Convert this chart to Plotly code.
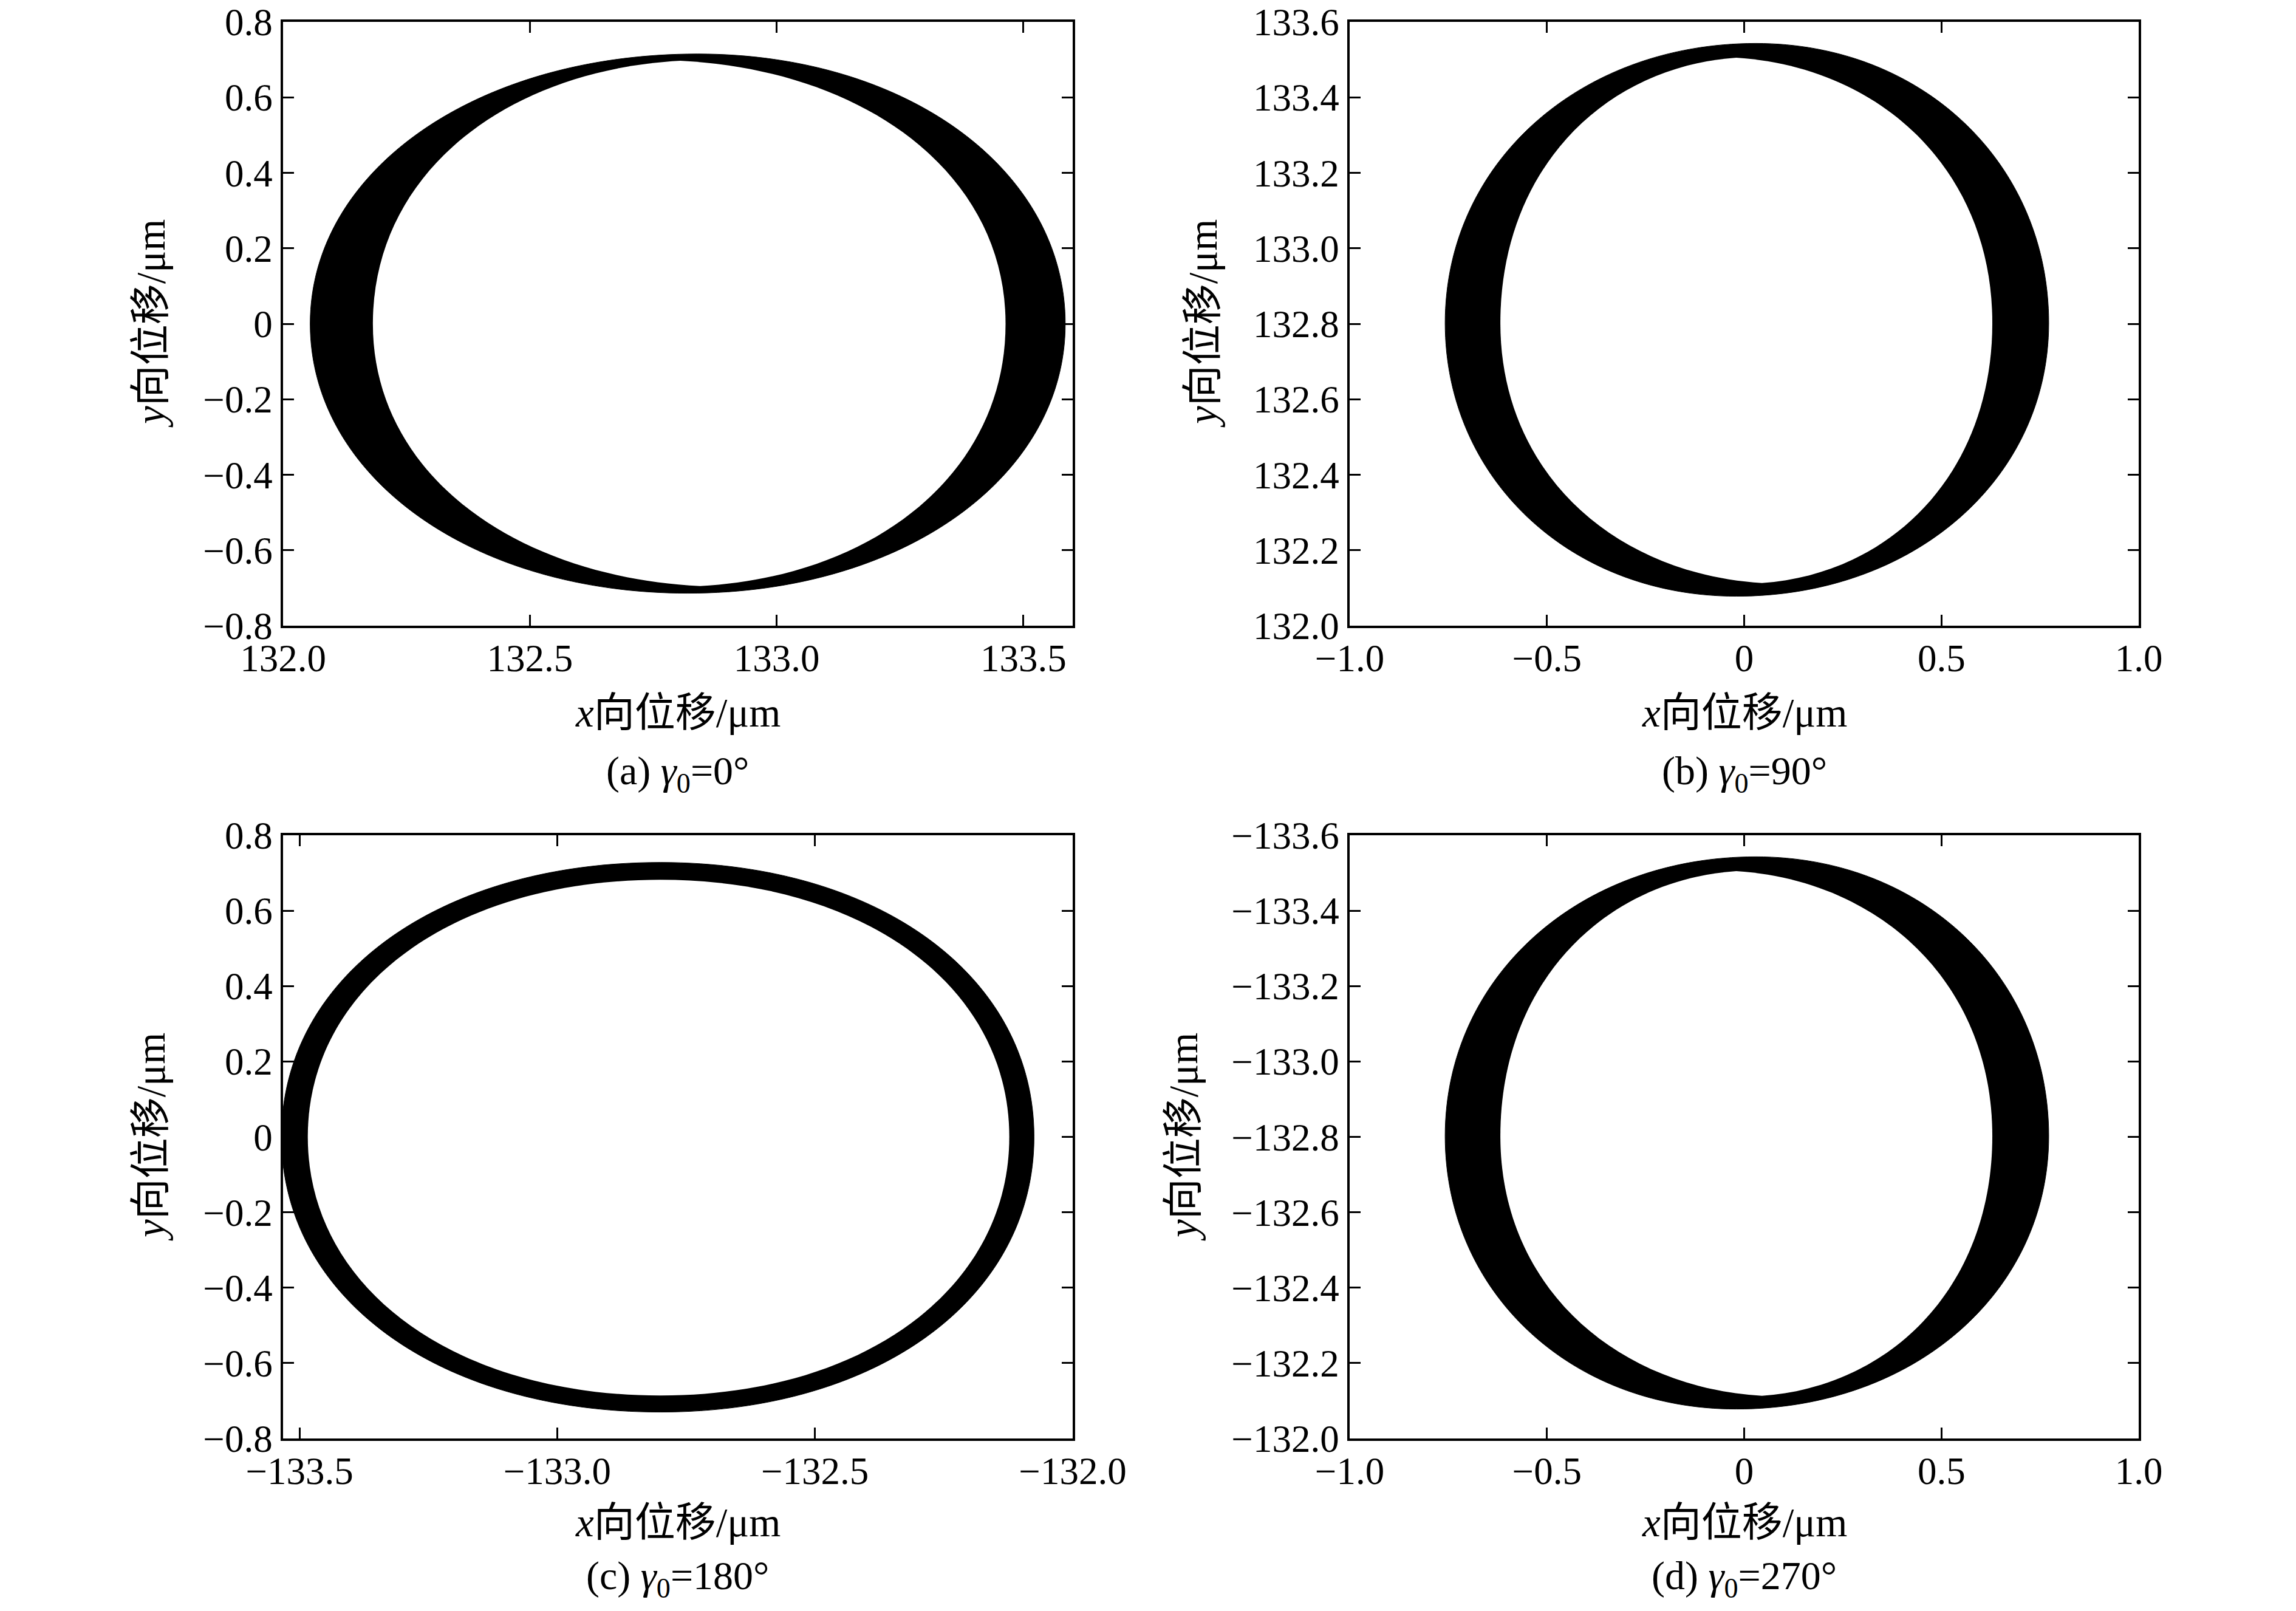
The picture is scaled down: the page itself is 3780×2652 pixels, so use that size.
import plotly.graph_objects as go

# extreme points of each boundary, in order: top, left, bottom, right
# (a) gamma0 = 0 deg
a_outer_x = [132.84, 132.055, 132.82, 133.585]
a_outer_y = [0.715, 0.0, -0.714, 0.0]
a_inner_x = [132.805, 132.182, 132.845, 133.464]
a_inner_y = [0.697, 0.0, -0.695, 0.0]

# (b) gamma0 = 90 deg
b_outer_x = [0.03, -0.758, -0.02, 0.772]
b_outer_y = [133.543, 132.802, 132.078, 132.802]
b_inner_x = [-0.02, -0.618, 0.045, 0.629]
b_inner_y = [133.505, 132.802, 132.113, 132.802]

# (c) gamma0 = 180 deg
c_outer_x = [-132.80, -133.535, -132.80, -132.075]
c_outer_y = [0.728, 0.0, -0.730, 0.0]
c_inner_x = [-132.80, -133.484, -132.80, -132.123]
c_inner_y = [0.682, 0.0, -0.686, 0.0]

# (d) gamma0 = 270 deg (y reversed on the axis)
d_outer_x = [-0.02, -0.758, 0.03, 0.772]
d_outer_y = [-132.078, -132.802, -133.543, -132.802]
d_inner_x = [0.045, -0.618, -0.02, 0.629]
d_inner_y = [-132.113, -132.802, -133.505, -132.802]

# how square the envelopes look (0.5523 would be a true ellipse)
roundness = [0.57, 0.57, 0.585, 0.57]
# how pointed the hole is where its two halves meet (top and bottom cusps)
cusp = [0.025, 0.025, 0.0, 0.025]

# ticks
small_ticks = [-0.8, -0.6, -0.4, -0.2, 0, 0.2, 0.4, 0.6, 0.8]
small_labels = ["\u22120.8", "\u22120.6", "\u22120.4", "\u22120.2", "0", "0.2", "0.4", "0.6", "0.8"]
unit_ticks = [-1.0, -0.5, 0, 0.5, 1.0]
unit_labels = ["\u22121.0", "\u22120.5", "0", "0.5", "1.0"]
a_xticks = [132.0, 132.5, 133.0, 133.5]
a_xlabels = ["132.0", "132.5", "133.0", "133.5"]
b_yticks = [132.0, 132.2, 132.4, 132.6, 132.8, 133.0, 133.2, 133.4, 133.6]
b_ylabels = ["132.0", "132.2", "132.4", "132.6", "132.8", "133.0", "133.2", "133.4", "133.6"]
c_xticks = [-133.5, -133.0, -132.5, -132.0]
c_xlabels = ["\u2212133.5", "\u2212133.0", "\u2212132.5", "\u2212132.0"]
d_yticks = [-132.0, -132.2, -132.4, -132.6, -132.8, -133.0, -133.2, -133.4, -133.6]
d_ylabels = ["\u2212132.0", "\u2212132.2", "\u2212132.4", "\u2212132.6", "\u2212132.8",
             "\u2212133.0", "\u2212133.2", "\u2212133.4", "\u2212133.6"]

captions = ["(a) <i>\u03b3</i><sub>0</sub>=0\u00b0", "(b) <i>\u03b3</i><sub>0</sub>=90\u00b0",
            "(c) <i>\u03b3</i><sub>0</sub>=180\u00b0", "(d) <i>\u03b3</i><sub>0</sub>=270\u00b0"]

FONT = "Liberation Serif, Noto Sans CJK SC"
# the page body has an 8px margin, so the figure is a bit smaller than the window
OFF = 8
W, H = 3780 - 2 * OFF, 2652 - 2 * OFF


def px(X):
    return (X - OFF) / W


def py(Y):
    return 1 - (Y - OFF) / H


fig = go.Figure()


def loop_path(xs, ys, k, s=0.0):
    # closed curve through top, left, bottom, right with one cubic per quarter;
    # s tilts the tangents at top/bottom inwards to give a pointed join
    tx, lx, bx, rx = xs
    ty, ly, by, ry = ys
    p = "M %f,%f " % (tx, ty)
    p += "C %f,%f %f,%f %f,%f " % (tx - k * (tx - lx), ty - s, lx, ly + k * (ty - ly), lx, ly)
    p += "C %f,%f %f,%f %f,%f " % (lx, ly - k * (ly - by), bx - k * (bx - lx), by + s, bx, by)
    p += "C %f,%f %f,%f %f,%f " % (bx + k * (rx - bx), by + s, rx, ry - k * (ry - by), rx, ry)
    p += "C %f,%f %f,%f %f,%f Z" % (rx, ry + k * (ty - ry), tx + k * (rx - tx), ty - s, tx, ty)
    return p


def add_panel(n, ox, oy, ix, iy):
    xa = 'x' if n == 1 else 'x%d' % n
    ya = 'y' if n == 1 else 'y%d' % n
    k = roundness[n - 1]
    fig.add_shape(type='path', path=loop_path(ox, oy, k), xref=xa, yref=ya,
                  fillcolor='black', line=dict(color='black', width=1), layer='below')
    fig.add_shape(type='path', path=loop_path(ix, iy, k, cusp[n - 1]), xref=xa, yref=ya,
                  fillcolor='white', line=dict(color='white', width=0), layer='below')
    # invisible anchor trace so the subplot is built
    fig.add_trace(go.Scatter(x=ox, y=oy, mode='markers', marker=dict(opacity=0),
                             xaxis=xa, yaxis=ya, hoverinfo='skip', showlegend=False))


add_panel(1, a_outer_x, a_outer_y, a_inner_x, a_inner_y)
add_panel(2, b_outer_x, b_outer_y, b_inner_x, b_inner_y)
add_panel(3, c_outer_x, c_outer_y, c_inner_x, c_inner_y)
add_panel(4, d_outer_x, d_outer_y, d_inner_x, d_inner_y)


def ax(domain, anchor, rng, vals, text, standoff):
    return dict(domain=domain, anchor=anchor, range=rng, tickvals=vals, ticktext=text,
                ticks='inside', ticklen=18, tickwidth=3, tickcolor='black',
                showline=True, linecolor='black', linewidth=3.5, mirror='ticks',
                showgrid=False, zeroline=False, automargin=False, ticklabelstandoff=standoff,
                ticklabeloverflow='allow',
                tickfont=dict(family=FONT, size=63, color='black'))


left = [px(466), px(1766)]
right = [px(2222), px(3521)]
top = [py(1030), py(36)]
bottom = [py(2368), py(1375)]

fig.update_layout(
    width=W, height=H,
    margin=dict(l=0, r=0, t=0, b=0),
    paper_bgcolor='white', plot_bgcolor='white',
    xaxis=ax(left, 'y', [132.0, 133.6], a_xticks, a_xlabels, -4),
    yaxis=ax(top, 'x', [-0.8, 0.8], small_ticks, small_labels, 1),
    xaxis2=ax(right, 'y2', [-1.0, 1.0], unit_ticks, unit_labels, -4),
    yaxis2=ax(top, 'x2', [132.0, 133.6], b_yticks, b_ylabels, 1),
    xaxis3=ax(left, 'y3', [-133.532, -132.0], c_xticks, c_xlabels, -4),
    yaxis3=ax(bottom, 'x3', [-0.8, 0.8], small_ticks, small_labels, 1),
    xaxis4=ax(right, 'y4', [-1.0, 1.0], unit_ticks, unit_labels, -4),
    yaxis4=ax(bottom, 'x4', [-132.0, -133.6], d_yticks, d_ylabels, 1),
)

# axis titles and captions
xt = "<i>x</i>\u5411\u4f4d\u79fb/\u03bcm"
yt = "<i>y</i>\u5411\u4f4d\u79fb/\u03bcm"
col_x = [px((466 + 1766) / 2), px((2222 + 3521) / 2)]
ytitle_x = [px(248), px(1980), px(248), px(1948)]
row_mid = [py(533), py(1872)]
xtitle_y = [py(1173), py(2506)]
cap_y = [py(1273), py(2598)]

for i in range(4):
    r, c = i // 2, i % 2
    fig.add_annotation(x=col_x[c], y=xtitle_y[r], xref='paper', yref='paper', text=xt, showarrow=False,
                       xanchor='center', yanchor='middle', font=dict(family=FONT, size=67, color='black'))
    fig.add_annotation(x=col_x[c], y=cap_y[r], xref='paper', yref='paper', text=captions[i], showarrow=False,
                       xanchor='center', yanchor='middle', font=dict(family=FONT, size=66, color='black'))
    fig.add_annotation(x=ytitle_x[i], y=row_mid[r], xref='paper', yref='paper', text=yt, showarrow=False,
                       textangle=-90, xanchor='center', yanchor='middle',
                       font=dict(family=FONT, size=67, color='black'))

fig.write_html("out.html")
